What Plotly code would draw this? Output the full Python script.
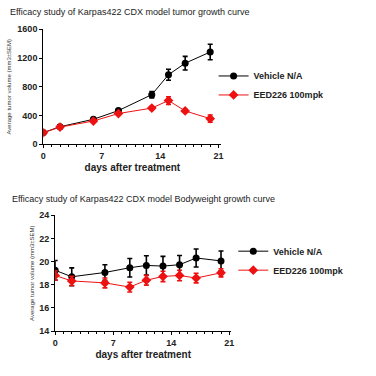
import plotly.graph_objects as go

# ---- data ----
days_tumor = [0, 2, 6, 9, 13, 15, 17, 20]
veh_tumor = [162, 243, 347, 468, 690, 968, 1128, 1284]
veh_tumor_err = [15, 18, 20, 20, 45, 77, 95, 108]
eed_tumor = [160, 238, 323, 427, 503, 608, 463, 356]
eed_tumor_err = [12, 15, 18, 20, 22, 54, 18, 50]

days_bw = [0, 2, 6, 9, 11, 13, 15, 17, 20]
veh_bw = [19.25, 18.69, 19.06, 19.47, 19.67, 19.61, 19.73, 20.31, 20.06]
veh_bw_err = [0.85, 0.77, 0.67, 0.8, 0.84, 0.84, 0.8, 0.78, 0.85]
eed_bw = [18.80, 18.33, 18.16, 17.80, 18.39, 18.72, 18.80, 18.58, 19.03]
eed_bw_err = [0.4, 0.4, 0.43, 0.42, 0.42, 0.45, 0.45, 0.42, 0.35]

x_ticks = [0, 7, 14, 21]
tumor_yticks = [0, 400, 800, 1200, 1600]
bw_yticks = [14, 16, 18, 20, 22, 24]

names = ["Vehicle N/A", "EED226 100mpk"]
title_top = "Efficacy study of Karpas422 CDX model tumor growth curve"
title_bot = "Efficacy study of Karpas422 CDX model Bodyweight growth curve"
ytitle = "Average tumor volume (mm3±SEM)"
xtitle = "days after treatment"

FONT = "Liberation Sans, Arial, sans-serif"
W = H = 376

def px_x(p):
    return p / W

def px_y(p):
    return 1 - p / H

fig = go.Figure()

def add_series(x, y, err, name, color, symbol, msize, xa, ya, legend):
    fig.add_trace(go.Scatter(
        x=x, y=y, mode="lines+markers", name=name,
        line=dict(color=color, width=1),
        marker=dict(color=color, symbol=symbol, size=msize),
        error_y=dict(type="data", array=err, visible=True, color=color, thickness=1.6, width=2.5),
        xaxis=xa, yaxis=ya, legend=legend,
    ))

add_series(days_tumor, veh_tumor, veh_tumor_err, names[0], "black", "circle", 7, "x", "y", "legend")
add_series(days_tumor, eed_tumor, eed_tumor_err, names[1], "#ee1111", "diamond", 7.5, "x", "y", "legend")
add_series(days_bw, veh_bw, veh_bw_err, names[0], "black", "circle", 7, "x2", "y2", "legend2")
add_series(days_bw, eed_bw, eed_bw_err, names[1], "#ee1111", "diamond", 7.5, "x2", "y2", "legend2")

tickfont = dict(family=FONT, size=9, color="#222", weight="bold")
axis_common = dict(showline=True, linecolor="black", linewidth=1.3, ticks="outside",
                   ticklen=3, tickwidth=1.2, tickcolor="black", showgrid=False,
                   zeroline=False, tickfont=tickfont)
xtitle_font = dict(family=FONT, size=10, color="#222", weight="bold")
ytitle_font = dict(family=FONT, size=6, color="#333")

fig.update_layout(
    width=W, height=H, margin=dict(l=0, r=0, t=0, b=0),
    paper_bgcolor="white", plot_bgcolor="white",
    showlegend=True,
    xaxis=dict(domain=[px_x(41), px_x(222)], range=[0, 21.35], tickvals=x_ticks,
               anchor="y",
               minor=dict(dtick=1, ticks="outside", ticklen=2, tickcolor="black", tickwidth=1),
               title=dict(text=xtitle, font=xtitle_font, standoff=3),
               **axis_common),
    yaxis=dict(domain=[px_y(143), px_y(25)], range=[0, 1600], tickvals=tumor_yticks,
               anchor="x",
               title=dict(text=ytitle, font=ytitle_font, standoff=5),
               **axis_common),
    xaxis2=dict(domain=[px_x(53), px_x(232)], range=[0, 21.24], tickvals=x_ticks,
                anchor="y2",
                minor=dict(dtick=1, ticks="outside", ticklen=2, tickcolor="black", tickwidth=1),
                title=dict(text=xtitle, font=xtitle_font, standoff=3),
                **axis_common),
    yaxis2=dict(domain=[px_y(335), px_y(216)], range=[14, 24], tickvals=bw_yticks,
                anchor="x2",
                title=dict(text=ytitle, font=ytitle_font, standoff=4),
                **axis_common),
    legend=dict(x=px_x(214), y=px_y(58), xanchor="left", yanchor="top",
                font=dict(family=FONT, size=9, color="#222", weight="bold"),
                bgcolor="rgba(0,0,0,0)", itemwidth=30),
    legend2=dict(x=px_x(234), y=px_y(238), xanchor="left", yanchor="top",
                 font=dict(family=FONT, size=9, color="#222", weight="bold"),
                 bgcolor="rgba(0,0,0,0)", itemwidth=30),
    annotations=[
        dict(text=title_top, x=px_x(5), y=px_y(7), xref="paper", yref="paper",
             xanchor="left", yanchor="middle", showarrow=False,
             font=dict(family=FONT, size=9, color="#222")),
        dict(text=title_bot, x=px_x(7), y=px_y(199), xref="paper", yref="paper",
             xanchor="left", yanchor="middle", showarrow=False,
             font=dict(family=FONT, size=9, color="#222")),
    ],
)

fig.write_html("out.html", config={"displayModeBar": False},
               post_script="document.body.style.margin='0';")
